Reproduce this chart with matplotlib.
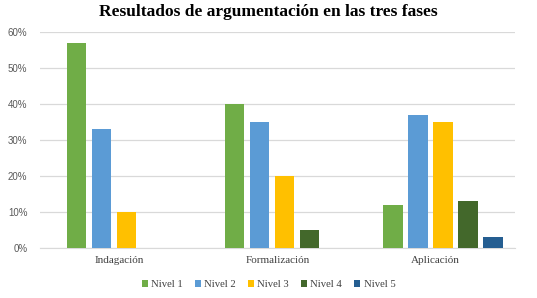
import matplotlib
matplotlib.use("Agg")
import matplotlib.pyplot as plt
import numpy as np
from matplotlib.ticker import FuncFormatter

categories = ["Indagación", "Formalización", "Aplicación"]
series = ["Nivel 1", "Nivel 2", "Nivel 3", "Nivel 4", "Nivel 5"]
nivel_1 = [57, 40, 12]
nivel_2 = [33, 35, 37]
nivel_3 = [10, 20, 35]
nivel_4 = [0, 5, 13]
nivel_5 = [0, 0, 3]
values = [nivel_1, nivel_2, nivel_3, nivel_4, nivel_5]
colors = ["#70AD47", "#5B9BD5", "#FFC000", "#43682B", "#255E91"]

fig = plt.figure(figsize=(5.37, 2.98), dpi=100)
ax = fig.add_axes([0.0745, 0.168, 0.8845, 0.725])

x = np.arange(len(categories))
pitch = 0.158
width = 0.123
for k, (name, vals, col) in enumerate(zip(series, values, colors)):
    ax.bar(x + (k - 2) * pitch + 0.045, vals, width=width, color=col,
           label=name, zorder=3)

ax.set_xlim(-0.5, len(categories) - 0.5)
ax.set_ylim(0, 60)
ax.set_yticks(np.arange(0, 61, 10))
ax.yaxis.set_major_formatter(FuncFormatter(lambda v, _: f"{v:.0f}%"))
ax.grid(axis="y", color="#D9D9D9", lw=0.9, zorder=0)
ax.set_xticks(x)
ax.set_xticklabels(categories, family="Liberation Serif", fontsize=8)
ax.tick_params(axis="both", length=0, colors="#404040")
ax.tick_params(axis="y", labelsize=7, pad=9, labelcolor="#595959")
ax.tick_params(axis="x", pad=6)
for lab in ax.get_yticklabels():
    lab.set_family("Liberation Sans")
for side in ["top", "right", "left"]:
    ax.spines[side].set_visible(False)
ax.spines["bottom"].set_color("#D9D9D9")

fig.suptitle("Resultados de argumentación en las tres fases", y=0.985,
             family="Liberation Serif", fontweight="bold", fontsize=12.5)

leg = fig.legend(loc="center", bbox_to_anchor=(0.5, 0.045), ncol=5,
                 frameon=False, handlelength=0.6, handleheight=0.6,
                 handletextpad=0.3, columnspacing=1.1,
                 prop={"family": "Liberation Serif", "size": 7.7})
for t in leg.get_texts():
    t.set_color("#404040")

fig.savefig("out.png", dpi=100)
